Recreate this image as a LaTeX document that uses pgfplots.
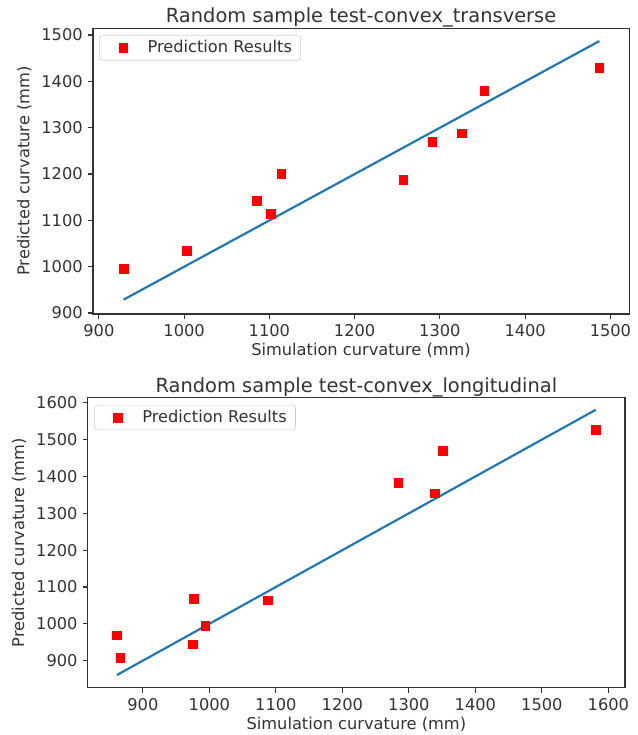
\documentclass[border=0pt]{standalone}
\usepackage{fontspec}
\setmainfont{DejaVu Sans}
\usepackage{pgfplots}
\pgfplotsset{compat=1.18}
\definecolor{mplblue}{HTML}{1F77B4}
\definecolor{txt}{HTML}{333333}
\pgfplotsset{
  myaxis/.style={
    scale only axis,
    axis line style={black!80, line width=0.8pt},
    tick align=outside,
    tick pos=left,
    major tick length=3.5pt,
    tick style={black!80, line width=0.8pt},
    ticklabel style={font=\fontsize{11.2}{13}\selectfont, text=txt},
    /pgf/number format/assume math mode=true,
    /pgf/number format/1000 sep={},
    label style={font=\fontsize{11.2}{13}\selectfont, text=txt},
    xlabel style={yshift=2.5pt},
    ylabel shift=0pt,
    title style={font=\fontsize{13.4}{16}\selectfont, text=txt, yshift=-9pt},
    legend style={at={(0.012,0.975)}, anchor=north west, draw=black!20, rounded corners=2pt,
      font=\fontsize{11.2}{13}\selectfont, text=txt, inner xsep=4pt, inner ysep=1.5pt},
    legend cell align=left,
  },
  scat/.style={only marks, mark=square*, mark size=3pt, color=red,
    legend image code/.code={\path[draw=none, fill=none] (0cm,-0.1cm) rectangle (0.95cm,0.1cm); \draw[##1] plot coordinates {(0.43cm,0cm)};}},
}
\pgfplotstableread{
x y
929 995
1003 1035
1085 1142
1102 1115
1114 1200
1257 1188
1291 1270
1326 1288
1352 1380
1487 1429
}\transverse
\pgfplotstableread{
x y
861 969
866 907
975 944
977 1068
994 994
1088 1064
1284 1382
1339 1354
1351 1469
1581 1527
}\longitudinal
\begin{document}
\begin{tikzpicture}
\path[use as bounding box] (0,0) rectangle (440pt,507pt);
\begin{axis}[myaxis, at={(64.1pt,290.4pt)}, anchor=south west,
  width=369.9pt, height=197.2pt,
  xmin=893, xmax=1522, ymin=898, ymax=1515,
  xtick={900,1000,...,1500}, ytick={900,1000,...,1500},
  title={Random sample test-convex\_transverse},
  xlabel={Simulation curvature (mm)}, ylabel={Predicted curvature (mm)}]
\addplot[mplblue, line width=1.5pt, forget plot] table[x=x, y=x] {\transverse};
\addplot[scat] table[x=x, y=y] {\transverse};
\addlegendentry{Prediction Results}
\end{axis}
\begin{axis}[myaxis, at={(60.5pt,32.5pt)}, anchor=south west,
  width=370.6pt, height=200.2pt,
  xmin=817, xmax=1625, ymin=826, ymax=1614,
  xtick={900,1000,...,1600}, ytick={900,1000,...,1600},
  title={Random sample test-convex\_longitudinal},
  xlabel={Simulation curvature (mm)}, ylabel={Predicted curvature (mm)}]
\addplot[mplblue, line width=1.5pt, forget plot] table[x=x, y=x] {\longitudinal};
\addplot[scat] table[x=x, y=y] {\longitudinal};
\addlegendentry{Prediction Results}
\end{axis}
\end{tikzpicture}
\end{document}
